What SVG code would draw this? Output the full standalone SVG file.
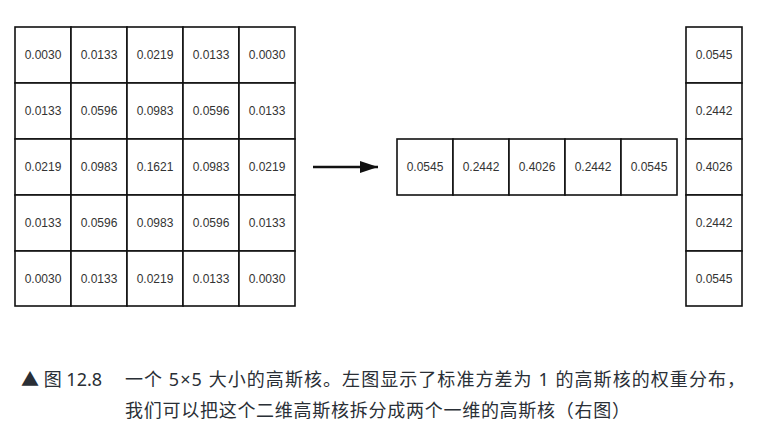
<svg xmlns="http://www.w3.org/2000/svg" width="760" height="436" viewBox="0 0 760 436">
<style>
.c{fill:#ffffff;stroke:#111111;stroke-width:1.6}
.t{font-family:"Liberation Sans",Arial,sans-serif;font-size:12px;fill:#333333;text-anchor:middle;dominant-baseline:central}
.cap{font-family:"Noto Sans","Noto Sans CJK SC",sans-serif;font-size:18px;fill:#2a2f36}
</style>
<defs>
<marker id="ah" markerWidth="18" markerHeight="12" refX="18" refY="6" orient="auto" markerUnits="userSpaceOnUse">
<path d="M0,0 L18,6 L0,12 Z" fill="#111111"/>
</marker>
</defs>
<rect width="760" height="436" fill="#ffffff"/>
<g id="kernel2d">
<rect class="c" x="15" y="27" width="56" height="56"/><text class="t" x="43" y="55">0.0030</text>
<rect class="c" x="71" y="27" width="56" height="56"/><text class="t" x="99" y="55">0.0133</text>
<rect class="c" x="127" y="27" width="56" height="56"/><text class="t" x="155" y="55">0.0219</text>
<rect class="c" x="183" y="27" width="56" height="56"/><text class="t" x="211" y="55">0.0133</text>
<rect class="c" x="239" y="27" width="56" height="56"/><text class="t" x="267" y="55">0.0030</text>
<rect class="c" x="15" y="83" width="56" height="56"/><text class="t" x="43" y="111">0.0133</text>
<rect class="c" x="71" y="83" width="56" height="56"/><text class="t" x="99" y="111">0.0596</text>
<rect class="c" x="127" y="83" width="56" height="56"/><text class="t" x="155" y="111">0.0983</text>
<rect class="c" x="183" y="83" width="56" height="56"/><text class="t" x="211" y="111">0.0596</text>
<rect class="c" x="239" y="83" width="56" height="56"/><text class="t" x="267" y="111">0.0133</text>
<rect class="c" x="15" y="139" width="56" height="56"/><text class="t" x="43" y="167">0.0219</text>
<rect class="c" x="71" y="139" width="56" height="56"/><text class="t" x="99" y="167">0.0983</text>
<rect class="c" x="127" y="139" width="56" height="56"/><text class="t" x="155" y="167">0.1621</text>
<rect class="c" x="183" y="139" width="56" height="56"/><text class="t" x="211" y="167">0.0983</text>
<rect class="c" x="239" y="139" width="56" height="56"/><text class="t" x="267" y="167">0.0219</text>
<rect class="c" x="15" y="195" width="56" height="56"/><text class="t" x="43" y="223">0.0133</text>
<rect class="c" x="71" y="195" width="56" height="56"/><text class="t" x="99" y="223">0.0596</text>
<rect class="c" x="127" y="195" width="56" height="56"/><text class="t" x="155" y="223">0.0983</text>
<rect class="c" x="183" y="195" width="56" height="56"/><text class="t" x="211" y="223">0.0596</text>
<rect class="c" x="239" y="195" width="56" height="56"/><text class="t" x="267" y="223">0.0133</text>
<rect class="c" x="15" y="251" width="56" height="55"/><text class="t" x="43" y="278.5">0.0030</text>
<rect class="c" x="71" y="251" width="56" height="55"/><text class="t" x="99" y="278.5">0.0133</text>
<rect class="c" x="127" y="251" width="56" height="55"/><text class="t" x="155" y="278.5">0.0219</text>
<rect class="c" x="183" y="251" width="56" height="55"/><text class="t" x="211" y="278.5">0.0133</text>
<rect class="c" x="239" y="251" width="56" height="55"/><text class="t" x="267" y="278.5">0.0030</text>
</g>
<g id="connectors">
<line x1="313" y1="167" x2="378" y2="167" stroke="#111111" stroke-width="2.4" marker-end="url(#ah)"/>
</g>
<g id="kernelRow">
<rect class="c" x="397" y="139" width="56" height="56"/><text class="t" x="425" y="167">0.0545</text>
<rect class="c" x="453" y="139" width="56" height="56"/><text class="t" x="481" y="167">0.2442</text>
<rect class="c" x="509" y="139" width="56" height="56"/><text class="t" x="537" y="167">0.4026</text>
<rect class="c" x="565" y="139" width="56" height="56"/><text class="t" x="593" y="167">0.2442</text>
<rect class="c" x="621" y="139" width="56" height="56"/><text class="t" x="649" y="167">0.0545</text>
</g>
<g id="kernelCol">
<rect class="c" x="686" y="27" width="56" height="56"/><text class="t" x="714" y="55">0.0545</text>
<rect class="c" x="686" y="83" width="56" height="56"/><text class="t" x="714" y="111">0.2442</text>
<rect class="c" x="686" y="139" width="56" height="56"/><text class="t" x="714" y="167">0.4026</text>
<rect class="c" x="686" y="195" width="56" height="56"/><text class="t" x="714" y="223">0.2442</text>
<rect class="c" x="686" y="251" width="56" height="55"/><text class="t" x="714" y="278.5">0.0545</text>
</g>
<g id="caption">
<text class="cap" x="21" y="386">▲ 图 12.8</text>
<text class="cap" x="125" y="386" textLength="620" lengthAdjust="spacing">一个 5×5 大小的高斯核。左图显示了标准方差为 1 的高斯核的权重分布，</text>
<text class="cap" x="125" y="417" textLength="505" lengthAdjust="spacing">我们可以把这个二维高斯核拆分成两个一维的高斯核（右图）</text>
</g>
</svg>
